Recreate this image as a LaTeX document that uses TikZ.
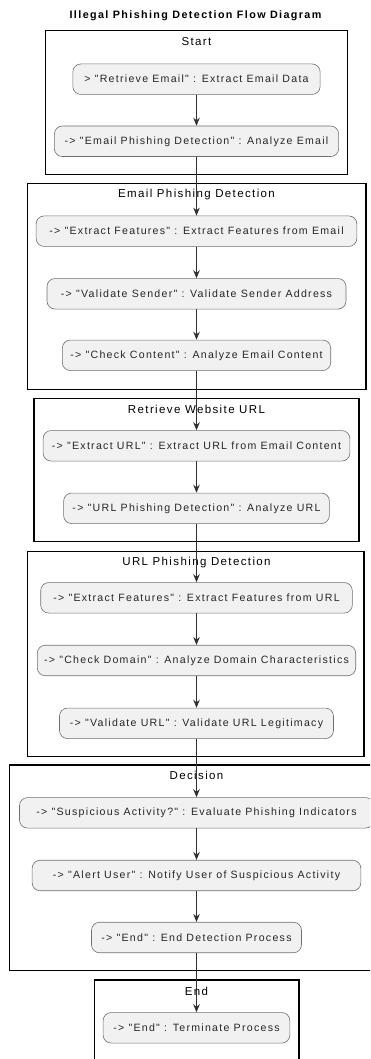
\documentclass[tikz,border=0pt]{standalone}
\usepackage{fontspec}
\setmainfont{Liberation Sans}
\newfontfamily\nfont{Liberation Sans}[LetterSpace=12]
\newfontfamily\tfont{Liberation Sans}[LetterSpace=12]
\newfontfamily\hfont{Liberation Sans}[LetterSpace=13]
\usetikzlibrary{arrows.meta}
\definecolor{nodefill}{HTML}{F1F1F1}
\definecolor{nodeline}{HTML}{707070}
\definecolor{arrowc}{HTML}{303030}
\tikzset{
  act/.style={draw=nodeline, fill=nodefill, rounded corners=8pt, line width=0.6pt,
    minimum height=30.5pt, inner sep=0pt, font=\nfont\fontsize{10.6}{12}\selectfont, text=black!85},
  clus/.style={draw=black, line width=1.1pt, inner sep=0pt},
  ctitle/.style={font=\tfont\fontsize{11.5}{13}\selectfont, inner sep=0pt, anchor=base},
  flow/.style={draw=arrowc, line width=0.8pt, -{Stealth[length=8pt,width=6.5pt]}},
}
\begin{document}
\begin{tikzpicture}[x=1pt,y=-1pt]
\useasboundingbox (0,0) rectangle (370,1059);
\clip (0,0) rectangle (370,1059);
\fill[white] (0,0) rectangle (370,1059);

% title
\node[font=\hfont\bfseries\fontsize{10.75}{12}\selectfont, inner sep=0pt, anchor=base] (title) at (195.5,18.3) {Illegal Phishing Detection Flow Diagram};

% clusters
\node[clus, minimum width=302pt, minimum height=143.6pt] (cStart) at (196.7,102.5) {};
\node[clus, minimum width=338.7pt, minimum height=206pt] (cEPD) at (196.65,286.3) {};
\node[clus, minimum width=325pt, minimum height=143.4pt] (cRWU) at (196.5,470) {};
\node[clus, minimum width=336.3pt, minimum height=205pt] (cUPD) at (195.85,654.2) {};
\node[clus, minimum width=374.4pt, minimum height=205.7pt] (cDec) at (196.5,867.85) {};
\node[clus, minimum width=204.7pt, minimum height=95pt] (cEnd) at (196.65,1027.5) {};

\node[ctitle] (tStart) at (196.5,45.7) {Start};
\node[ctitle] (tEPD) at (196.5,197.7) {Email Phishing Detection};
\node[ctitle] (tRWU) at (196.5,413.3) {Retrieve Website URL};
\node[ctitle] (tUPD) at (196.5,565) {URL Phishing Detection};
\node[ctitle] (tDec) at (196.5,779.3) {Decision};
\node[ctitle] (tEnd) at (196.5,995) {End};

% activities
\node[act, minimum width=247.3pt] (n1) at (196.5,79.2) {> "Retrieve Email" : Extract Email Data};
\node[act, minimum width=284.3pt] (n2) at (196.5,141.3) {-> "Email Phishing Detection" : Analyze Email};
\node[act, minimum width=320.7pt] (n3) at (196.5,231.2) {-> "Extract Features" : Extract Features from Email};
\node[act, minimum width=299pt] (n4) at (196.5,293.8) {-> "Validate Sender" : Validate Sender Address};
\node[act, minimum width=268.4pt] (n5) at (196.5,355.3) {-> "Check Content" : Analyze Email Content};
\node[act, minimum width=306.7pt] (n6) at (196.5,445.8) {-> "Extract URL" : Extract URL from Email Content};
\node[act, minimum width=265.7pt] (n7) at (196.5,508.3) {-> "URL Phishing Detection" : Analyze URL};
\node[act, minimum width=311.6pt] (n8) at (196.5,597.8) {-> "Extract Features" : Extract Features from URL};
\node[act, minimum width=318.4pt] (n9) at (196.5,660.5) {-> "Check Domain" : Analyze Domain Characteristics};
\node[act, minimum width=274pt] (n10) at (196.5,723.3) {-> "Validate URL" : Validate URL Legitimacy};
\node[act, minimum width=354pt] (n11) at (196.5,812.8) {-> "Suspicious Activity?" : Evaluate Phishing Indicators};
\node[act, minimum width=328.7pt] (n12) at (196.5,875.5) {-> "Alert User" : Notify User of Suspicious Activity};
\node[act, minimum width=210pt] (n13) at (196.5,937.5) {-> "End" : End Detection Process};
\node[act, minimum width=186.7pt] (n14) at (196.5,1027.8) {-> "End" : Terminate Process};

% flow
\draw[flow] (n1) -- (n2);
\draw[flow] (n2) -- (n3);
\draw[flow] (n3) -- (n4);
\draw[flow] (n4) -- (n5);
\draw[flow] (n5) -- (n6);
\draw[flow] (n6) -- (n7);
\draw[flow] (n7) -- (n8);
\draw[flow] (n8) -- (n9);
\draw[flow] (n9) -- (n10);
\draw[flow] (n10) -- (n11);
\draw[flow] (n11) -- (n12);
\draw[flow] (n12) -- (n13);
\draw[flow] (n13) -- (n14);
\end{tikzpicture}
\end{document}
